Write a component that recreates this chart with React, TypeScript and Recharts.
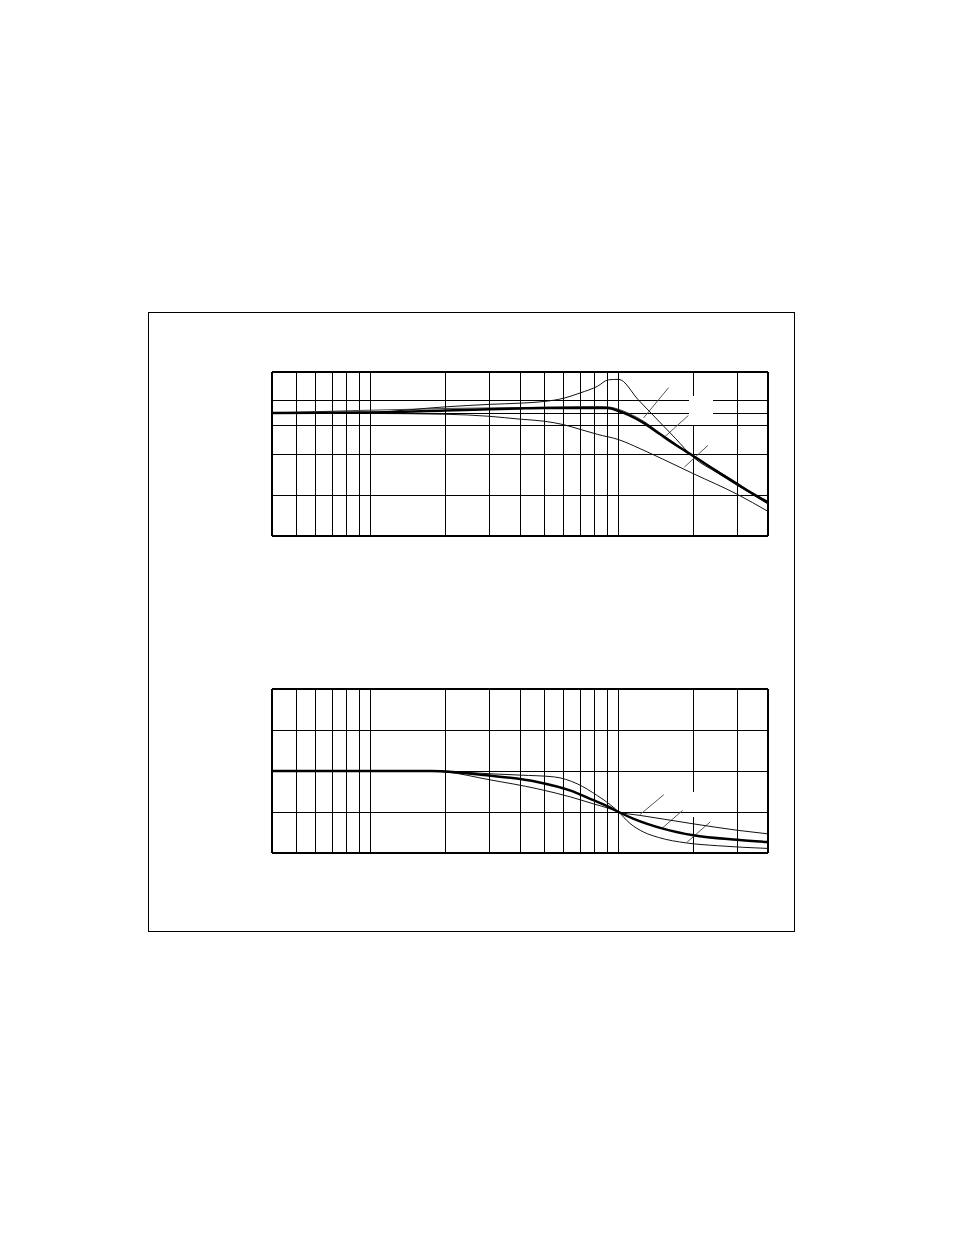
import { LineChart, Line, XAxis, YAxis, ReferenceLine } from "recharts";

// frequency grid (log axis, normalised so fc = 10)
const freqGrid = [0.5, 0.6, 0.7, 0.8, 0.9, 1, 2, 3, 4, 5, 6, 7, 8, 9, 10, 30];
const freqDomain = [0.4, 40];

// magnitude panel (dB)
const gainDomain = [-30, 10];
const gainGrid = [-3, -10, -20];
const gainGridSplit = [3, 0];

const peakFreq = [0.4, 1, 2, 3, 4, 5, 6, 7, 8.2, 9.1, 10, 12, 14, 17, 20, 25, 30, 40];
const peakGain = [0, 0.2, 1.5, 2.1, 2.4, 2.8, 3.6, 4.9, 6.5, 8.1, 8.2, 3.2, -1.0, -6.3, -10.8, -14.6, -17.6, -22.2];

const flatFreq = [0.4, 1, 2, 3, 4, 5, 6, 7, 8, 9, 10, 11, 12.6, 14.7, 17, 20, 25, 30, 35, 40];
const flatGain = [0, 0.1, 0.6, 0.9, 1.1, 1.2, 1.2, 1.2, 1.2, 1.2, 0.5, -0.5, -2.4, -5.2, -7.8, -10.5, -14.3, -17.3, -19.8, -21.8];

const midFreq = [0.4, 2, 5, 8, 9, 10, 11, 12.6, 14.7, 17, 20, 30, 40];
const midGain = [0, 1.1, 1.4, 1.6, 1.5, 0.9, -0.1, -2.0, -4.9, -7.6, -10.4, -17.1, -22.0];

const lowFreq = [0.4, 1, 2, 3, 4, 5, 6, 7, 8.2, 10, 12.2, 15, 20, 30, 40];
const lowGain = [0, -0.1, -0.3, -0.8, -1.5, -2.0, -2.85, -4.0, -5.2, -6.5, -8.7, -11.2, -14.8, -19.8, -24.0];

// phase panel (degrees)
const phaseDomain = [-180, 180];
const phaseGrid = [90, 0, -90];

const steepFreq = [0.4, 1.75, 2, 3, 4, 5.5, 6.8, 8.2, 9.3, 10, 11.1, 12.6, 14.5, 18.8, 25, 40];
const steepPhase = [0, 0, -0.5, -6, -9, -13, -28, -54, -75, -90, -115, -134, -146, -158, -164, -170];

const midPhaseFreq = [0.4, 1.75, 2, 3, 4.7, 6.4, 7.9, 9, 10, 11.5, 15.2, 20, 30, 40];
const midPhase = [0, 0, -1, -10, -24, -43, -64, -77, -90, -105, -127, -141, -151, -156];

const shallowFreq = [0.4, 1.75, 2, 3, 4.7, 6.4, 7.9, 9, 10, 12.2, 20, 30, 40];
const shallowPhase = [0, 0, -2, -19, -39, -57, -72, -81, -90, -97.5, -116, -130, -138];

// label leader lines (labels themselves are blank in the source)
const gainLeaders = [
  [{ x: 12.6, y: -1.2 }, { x: 15.9, y: 6.2 }],
  [{ x: 15.4, y: -5.7 }, { x: 19.1, y: -0.6 }],
  [{ x: 18.4, y: -13.2 }, { x: 22.9, y: -7.9 }],
];
const phaseLeaders = [
  [{ x: 12.2, y: -95.5 }, { x: 15.2, y: -52 }],
  [{ x: 14.9, y: -126.5 }, { x: 18.1, y: -86.6 }],
  [{ x: 18.8, y: -157 }, { x: 23.4, y: -111.6 }],
];

const toPoints = (f: number[], v: number[]) => f.map((x, i) => ({ f: x, v: v[i] }));

const grid = { stroke: "#000", strokeWidth: 1, shapeRendering: "crispEdges" } as any;
const border = { stroke: "#000", strokeWidth: 2, shapeRendering: "crispEdges" } as any;

function curve(key: string, data: { f: number; v: number }[], width = 1, color = "#111") {
  return (
    <Line
      key={key}
      data={data}
      dataKey="v"
      type="monotone"
      stroke={color}
      strokeWidth={width}
      dot={false}
      activeDot={false}
      isAnimationActive={false}
    />
  );
}

function Panel({
  yDomain,
  hGrid,
  splitH,
  splitV,
  leaders,
  children,
}: {
  yDomain: number[];
  hGrid: number[];
  splitH: number[];
  splitV: [number, number];
  leaders: { x: number; y: number }[][];
  children: React.ReactNode;
}) {
  const [y0, y1] = yDomain;
  return (
    <LineChart width={516} height={184} margin={{ top: 10, right: 10, bottom: 10, left: 10 }}>
      <XAxis dataKey="f" type="number" scale="log" domain={freqDomain} allowDataOverflow hide />
      <YAxis type="number" domain={yDomain} allowDataOverflow hide />
      {freqGrid.map((f) => (
        <ReferenceLine key={"v" + f} x={f} {...grid} />
      ))}
      {/* f = 20 line is broken where a label used to sit */}
      <ReferenceLine segment={[{ x: 20, y: y0 }, { x: 20, y: splitV[0] }]} {...grid} />
      <ReferenceLine segment={[{ x: 20, y: splitV[1] }, { x: 20, y: y1 }]} {...grid} />
      {hGrid.map((g) => (
        <ReferenceLine key={"h" + g} y={g} {...grid} />
      ))}
      {splitH.map((g) => [
        <ReferenceLine key={"ha" + g} segment={[{ x: 0.4, y: g }, { x: 19.2, y: g }]} {...grid} />,
        <ReferenceLine key={"hb" + g} segment={[{ x: 24, y: g }, { x: 40, y: g }]} {...grid} />,
      ])}
      <ReferenceLine x={freqDomain[0]} {...border} />
      <ReferenceLine x={freqDomain[1]} {...border} />
      <ReferenceLine y={y0} {...border} />
      <ReferenceLine y={y1} {...border} />
      {leaders.map((s, i) => (
        <ReferenceLine key={"l" + i} segment={s} stroke="#555" strokeWidth={1} />
      ))}
      {children}
    </LineChart>
  );
}

export default function App() {
  return (
    <div style={{ position: "absolute", left: 0, top: 0, width: 954, height: 1235, background: "#fff" }}>
      <div
        style={{
          position: "absolute",
          left: 148,
          top: 312,
          width: 647,
          height: 620,
          border: "1px solid #000",
          boxSizing: "border-box",
        }}
      />
      <div style={{ position: "absolute", left: 262, top: 362 }}>
        <Panel yDomain={gainDomain} hGrid={gainGrid} splitH={gainGridSplit} splitV={[-3, 4.1]} leaders={gainLeaders}>
          {curve("low", toPoints(lowFreq, lowGain))}
          {curve("mid", toPoints(midFreq, midGain), 1, "#444")}
          {curve("peak", toPoints(peakFreq, peakGain))}
          {curve("flat", toPoints(flatFreq, flatGain), 2.5, "#000")}
        </Panel>
      </div>
      <div style={{ position: "absolute", left: 262, top: 679 }}>
        <Panel yDomain={phaseDomain} hGrid={phaseGrid} splitH={[]} splitV={[-100, -46]} leaders={phaseLeaders}>
          {curve("shallow", toPoints(shallowFreq, shallowPhase))}
          {curve("steep", toPoints(steepFreq, steepPhase))}
          {curve("mid", toPoints(midPhaseFreq, midPhase), 2.5, "#000")}
        </Panel>
      </div>
    </div>
  );
}
